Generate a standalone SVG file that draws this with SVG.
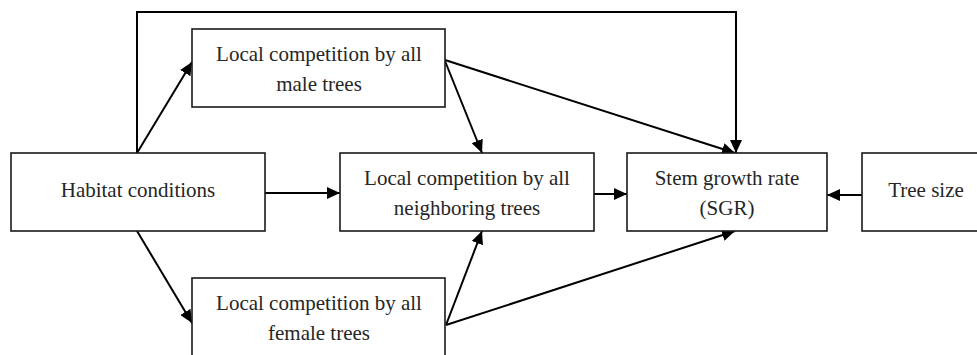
<svg xmlns="http://www.w3.org/2000/svg" width="977" height="355" viewBox="0 0 977 355">
<style>
.box{fill:#fff;stroke:#1a1a1a;stroke-width:1.6}
.lbl{font-family:"Liberation Serif","Times New Roman",serif;font-size:21px;fill:#262626;text-anchor:middle}
.edge{fill:none;stroke:#000;stroke-width:2}
</style>
<defs>
<marker id="ah" markerUnits="userSpaceOnUse" markerWidth="13" markerHeight="12" refX="13" refY="6" orient="auto">
<path d="M0,0 L13,6 L0,12 z" fill="#000"/>
</marker>
</defs>
<rect width="977" height="355" fill="#fff"/>
<g id="connectors">
<path class="edge" d="M137,153 L137,12 L736,12 L736,153" marker-end="url(#ah)"/>
<path class="edge" d="M137,153 L192,62" marker-end="url(#ah)"/>
<path class="edge" d="M445,60 L735,153" marker-end="url(#ah)"/>
<path class="edge" d="M445,61 L482,153" marker-end="url(#ah)"/>
<path class="edge" d="M265,193 L340,193" marker-end="url(#ah)"/>
<path class="edge" d="M594,194 L627,194" marker-end="url(#ah)"/>
<path class="edge" d="M862,195 L827,195" marker-end="url(#ah)"/>
<path class="edge" d="M137,231 L192,323" marker-end="url(#ah)"/>
<path class="edge" d="M446,325 L482,231" marker-end="url(#ah)"/>
<path class="edge" d="M446,325 L735,231" marker-end="url(#ah)"/>
</g>
<g id="male">
<rect class="box" x="192" y="29" width="253" height="78"/>
<text class="lbl" x="319" y="61">Local competition by all</text>
<text class="lbl" x="319" y="91">male trees</text>
</g>
<g id="habitat">
<rect class="box" x="11" y="153" width="254" height="78"/>
<text class="lbl" x="138" y="197">Habitat conditions</text>
</g>
<g id="neighbor">
<rect class="box" x="340" y="153" width="254" height="78"/>
<text class="lbl" x="467" y="185">Local competition by all</text>
<text class="lbl" x="467" y="215">neighboring trees</text>
</g>
<g id="sgr">
<rect class="box" x="627" y="153" width="200" height="78"/>
<text class="lbl" x="727" y="185">Stem growth rate</text>
<text class="lbl" x="727" y="215">(SGR)</text>
</g>
<g id="treesize">
<rect class="box" x="862" y="153" width="128" height="78"/>
<text class="lbl" x="926" y="197">Tree size</text>
</g>
<g id="female">
<rect class="box" x="192" y="278" width="253" height="80"/>
<text class="lbl" x="319" y="310">Local competition by all</text>
<text class="lbl" x="319" y="340">female trees</text>
</g>
</svg>
